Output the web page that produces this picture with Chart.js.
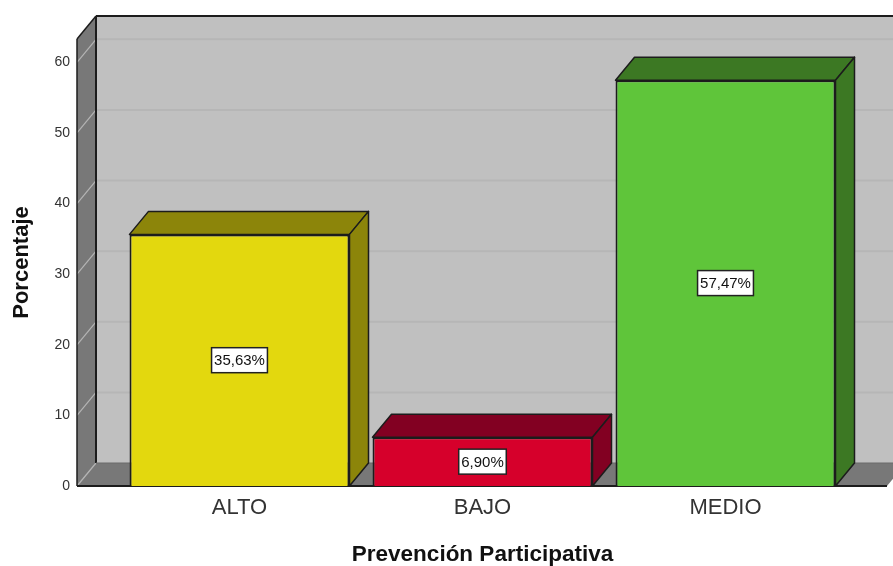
<!DOCTYPE html>
<html>
<head>
<meta charset="utf-8">
<style>
  html, body { margin: 0; padding: 0; background: #ffffff; }
  canvas { display: block; }
</style>
<script src="https://cdn.jsdelivr.net/npm/chart.js@4/dist/chart.umd.min.js"></script>
</head>
<body>
<canvas id="chart" width="893" height="566"></canvas>
<script>
const categories = ['ALTO', 'BAJO', 'MEDIO'];
const percentages = [35.63, 6.90, 57.47];
const faceColors = ['#e3d80e', '#d6002b', '#5fc53a'];
const shadeColors = ['#8c850a', '#820022', '#3c7823'];
const yTicksMax = 63.3;
const yStep = 10;

// Oblique offset of the box depth, and how far the walls reach beyond the bars.
const DEPTH_X = 19, DEPTH_Y = -23;
const WALL_LEFT = 77, WALL_RIGHT = 887;
const EDGE = '#1c1c1c';

function poly(ctx, pts, fill, stroke, lw) {
  ctx.beginPath();
  pts.forEach((p, i) => i ? ctx.lineTo(p[0], p[1]) : ctx.moveTo(p[0], p[1]));
  ctx.closePath();
  if (fill) { ctx.fillStyle = fill; ctx.fill(); }
  if (stroke) { ctx.strokeStyle = stroke; ctx.lineWidth = lw || 1.5; ctx.lineJoin = 'round'; ctx.stroke(); }
}

function line(ctx, x1, y1, x2, y2, color, lw) {
  ctx.beginPath();
  ctx.moveTo(x1, y1);
  ctx.lineTo(x2, y2);
  ctx.strokeStyle = color;
  ctx.lineWidth = lw;
  ctx.stroke();
}

// Back wall, side wall, floor and the shaded faces of each box.
const boxFrame = {
  id: 'boxFrame',
  beforeDatasetsDraw(chart) {
    const { ctx, chartArea, scales } = chart;
    const y = scales.y;
    const top = chartArea.top, base = y.getPixelForValue(0);
    const dx = DEPTH_X, dy = DEPTH_Y;
    ctx.save();
    poly(ctx, [[WALL_LEFT + dx, top + dy], [WALL_RIGHT + dx, top + dy], [WALL_RIGHT + dx, base + dy], [WALL_LEFT + dx, base + dy]], '#c0c0c0');
    poly(ctx, [[WALL_LEFT, top], [WALL_LEFT + dx, top + dy], [WALL_LEFT + dx, base + dy], [WALL_LEFT, base]], '#787878');
    poly(ctx, [[WALL_LEFT, base], [WALL_LEFT + dx, base + dy], [WALL_RIGHT + dx, base + dy], [WALL_RIGHT, base]], '#787878');

    y.ticks.forEach(t => {
      const py = y.getPixelForValue(t.value);
      if (t.value > 0) line(ctx, WALL_LEFT + dx, py + dy, WALL_RIGHT + dx, py + dy, '#b6b6b6', 2);
      line(ctx, WALL_LEFT, py, WALL_LEFT + dx, py + dy, '#b4b4b4', 1.2);
    });

    line(ctx, WALL_LEFT, top, WALL_LEFT, base, EDGE, 1.5);
    line(ctx, WALL_LEFT, top, WALL_LEFT + dx, top + dy, EDGE, 1.5);
    line(ctx, WALL_LEFT + dx, top + dy, WALL_LEFT + dx, base + dy, EDGE, 2);
    line(ctx, WALL_LEFT + dx, top + dy, WALL_RIGHT + dx, top + dy, EDGE, 2);
    line(ctx, WALL_LEFT + dx, base + dy, WALL_RIGHT + dx, base + dy, '#6a6a6a', 1);
    line(ctx, WALL_LEFT, base, WALL_RIGHT, base, EDGE, 2);

    chart.getDatasetMeta(0).data.forEach((bar, i) => {
      const l = bar.x - bar.width / 2, r = bar.x + bar.width / 2;
      poly(ctx, [[l, bar.y], [l + dx, bar.y + dy], [r + dx, bar.y + dy], [r, bar.y]], shadeColors[i], EDGE);
      poly(ctx, [[r, bar.y], [r + dx, bar.y + dy], [r + dx, bar.base + dy], [r, bar.base]], shadeColors[i], EDGE);
    });
    ctx.restore();
  }
};

// Boxed value label in the middle of each front face.
const valueBoxes = {
  id: 'valueBoxes',
  afterDatasetsDraw(chart) {
    const { ctx } = chart;
    ctx.save();
    ctx.font = '15px "Liberation Sans", Arial, sans-serif';
    ctx.textAlign = 'center';
    ctx.textBaseline = 'middle';
    chart.getDatasetMeta(0).data.forEach((bar, i) => {
      const text = percentages[i].toFixed(2).replace('.', ',') + '%';
      const cy = (bar.y + bar.base) / 2;
      const w = ctx.measureText(text).width + 5, h = 25;
      ctx.fillStyle = '#ffffff';
      ctx.fillRect(bar.x - w / 2, cy - h / 2, w, h);
      ctx.strokeStyle = '#222222';
      ctx.lineWidth = 1.5;
      ctx.strokeRect(bar.x - w / 2, cy - h / 2, w, h);
      ctx.fillStyle = '#111111';
      ctx.fillText(text, bar.x, cy + 1);
    });
    ctx.restore();
  }
};

new Chart(document.getElementById('chart'), {
  type: 'bar',
  data: {
    labels: categories,
    datasets: [{
      label: 'Porcentaje',
      data: percentages,
      backgroundColor: faceColors,
      borderColor: EDGE,
      borderWidth: 2,
      categoryPercentage: 1,
      barPercentage: 220 / 243
    }]
  },
  options: {
    responsive: false,
    animation: false,
    layout: { padding: { top: 39, right: 46, left: 0, bottom: 0 } },
    plugins: { legend: { display: false }, tooltip: { enabled: false } },
    scales: {
      x: {
        afterFit(scale) { scale.height = 80; scale.paddingLeft = 0; scale.paddingRight = 0; },
        grid: { display: false },
        border: { display: false },
        ticks: {
          padding: 1,
          color: '#333333',
          font: { family: '"Liberation Sans", Arial, sans-serif', size: 22 },
          maxRotation: 0
        },
        title: {
          display: true,
          text: 'Prevención Participativa',
          color: '#111111',
          font: { family: '"Liberation Sans", Arial, sans-serif', size: 22.5, weight: 'bold' },
          padding: { top: 0, bottom: -2 }
        }
      },
      y: {
        min: 0,
        max: yTicksMax,
        afterFit(scale) { scale.width = 118; scale.paddingTop = 0; scale.paddingBottom = 0; },
        grid: { display: false },
        border: { display: false },
        ticks: {
          stepSize: yStep,
          includeBounds: false,
          padding: 40,
          color: '#333333',
          font: { family: '"Liberation Sans", Arial, sans-serif', size: 14 }
        },
        title: {
          display: true,
          text: 'Porcentaje',
          color: '#111111',
          font: { family: '"Liberation Sans", Arial, sans-serif', size: 22, weight: 'bold' },
          padding: { top: 9, bottom: 0 }
        }
      }
    }
  },
  plugins: [boxFrame, valueBoxes]
});
</script>
</body>
</html>
